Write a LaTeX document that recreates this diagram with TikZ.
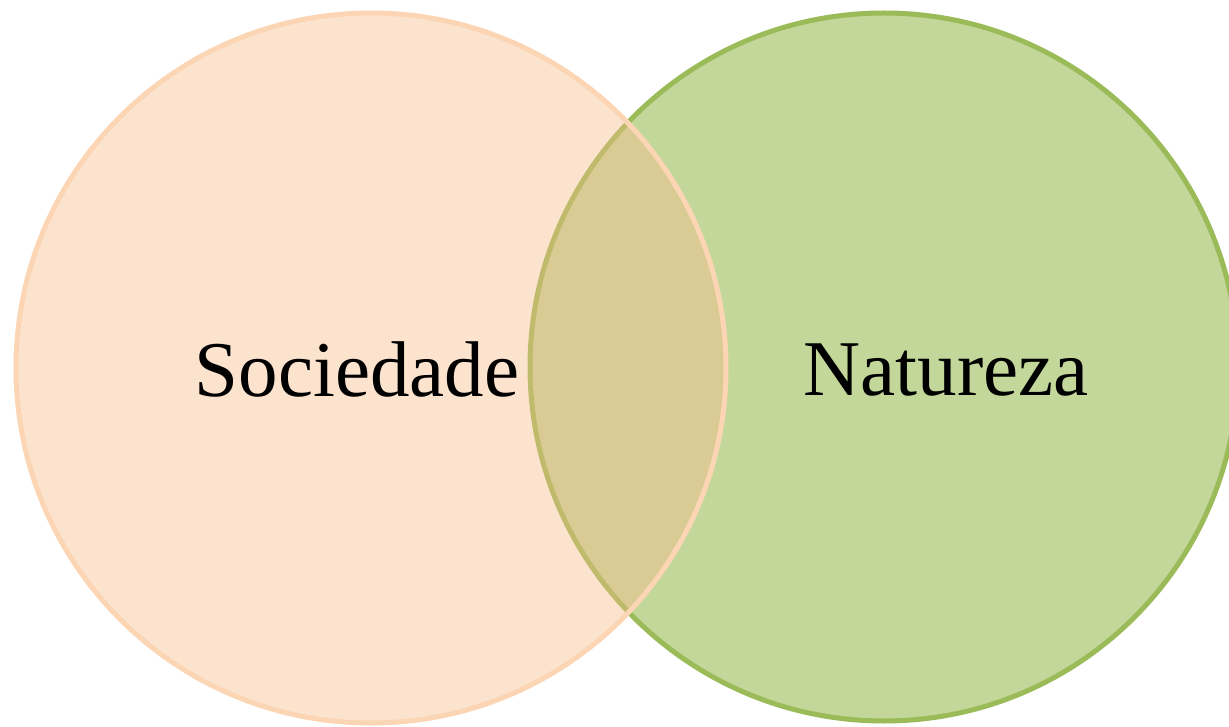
\documentclass[tikz,border=0pt]{standalone}
\usepackage{fontspec}
\setmainfont{Liberation Serif}
\definecolor{greenfill}{RGB}{196,215,155}
\definecolor{greenline}{RGB}{155,187,89}
\definecolor{peachfill}{RGB}{247,187,136}
\definecolor{peachline}{RGB}{252,213,180}
\tikzset{
  vennlabel/.style={inner sep=0pt, anchor=base, font=\fontsize{79}{90}\selectfont},
}
\begin{document}
\begin{tikzpicture}[x=1pt,y=-1pt]
\useasboundingbox (0,0) rectangle (1229,727);
\coordinate (cs) at (371,368);
\coordinate (cn) at (884,367);
\draw[line width=5pt, greenline, fill=greenfill] (cn) circle[radius=354];
\draw[line width=5pt, peachline, fill=peachfill, fill opacity=0.41] (cs) circle[radius=355];
\node[vennlabel] (soc) at (357,396) {Sociedade};
\node[vennlabel] (nat) at (946,395) {Natureza};
\end{tikzpicture}
\end{document}
